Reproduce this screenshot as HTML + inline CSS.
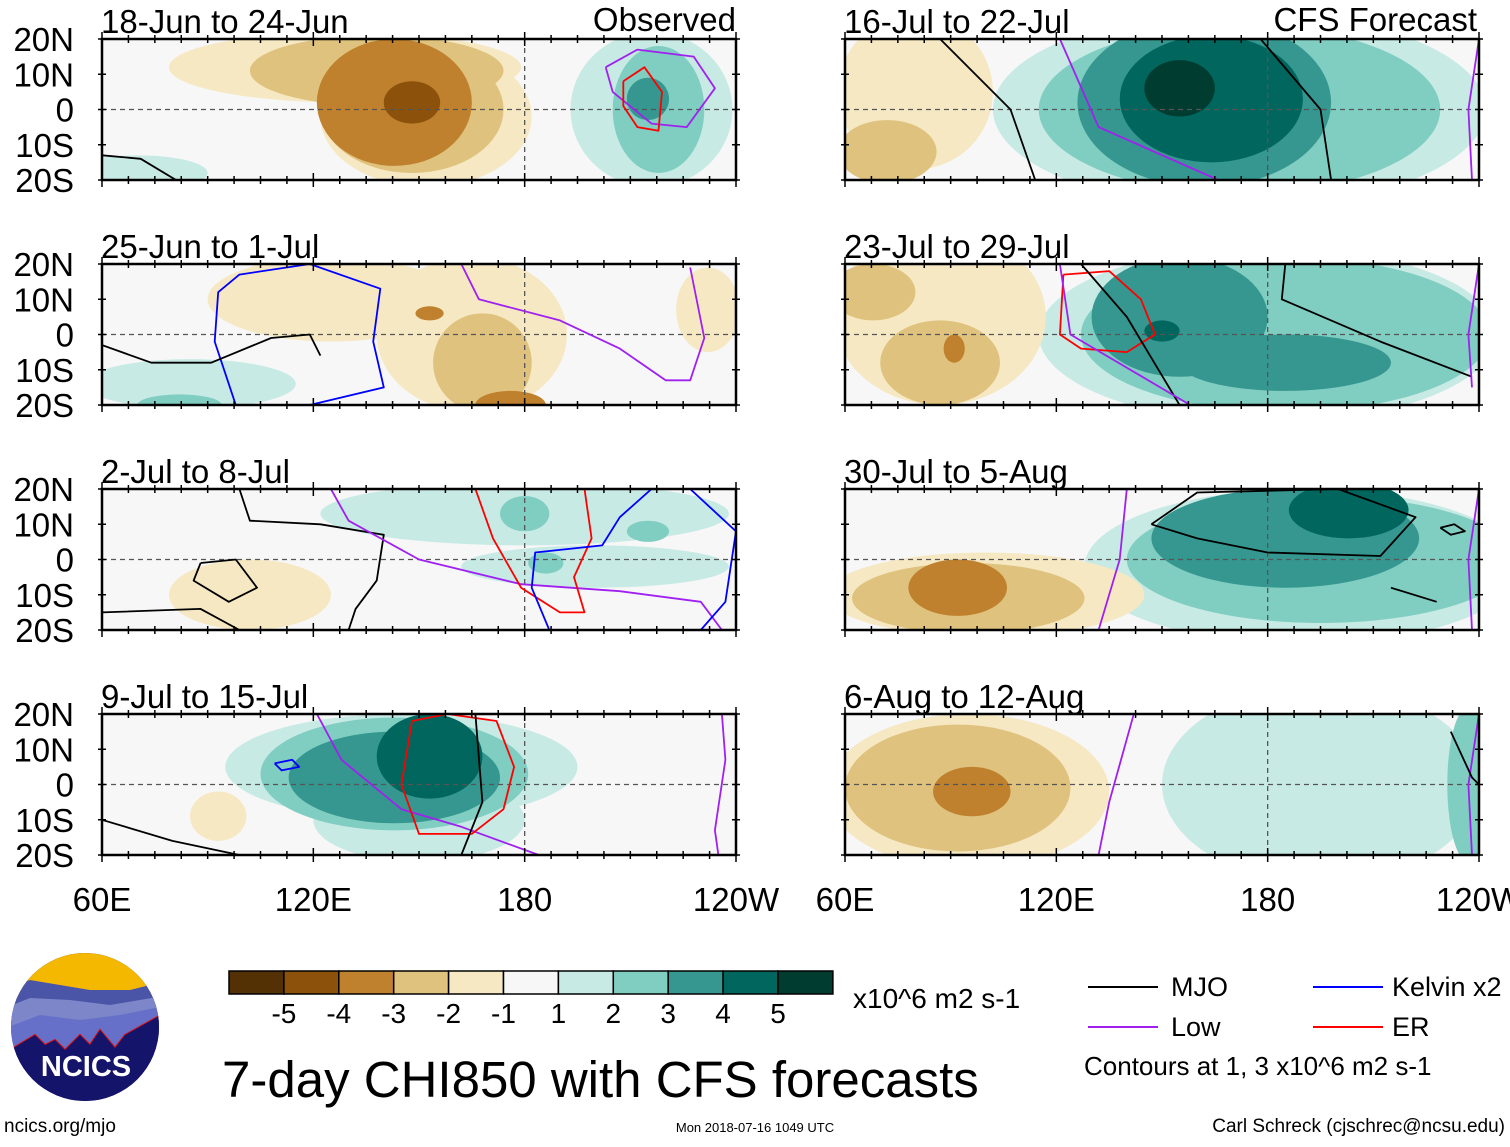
<!DOCTYPE html>
<html><head><meta charset="utf-8">
<style>
body{margin:0;background:#fff;}
svg text{font-family:"Liberation Sans",sans-serif;}
</style></head>
<body>
<svg id="chart" width="1510" height="1142" viewBox="0 0 1510 1142" xmlns="http://www.w3.org/2000/svg">
<rect width="1510" height="1142" fill="#fff"/>
<g id="panels"></g>
<g id="static"></g>
</svg>
<script>
// ---- data ----
const levels = [-5,-4,-3,-2,-1,1,2,3,4,5];
const levelColors = ['#543005','#8c510a','#bf812d','#dfc27d','#f6e8c3','#c7eae5','#80cdc1','#35978f','#01665e','#003c30'];
const panelTitles = ['18-Jun to 24-Jun','25-Jun to 1-Jul','2-Jul to 8-Jul','9-Jul to 15-Jul','16-Jul to 22-Jul','23-Jul to 29-Jul','30-Jul to 5-Aug','6-Aug to 12-Aug'];
const xTickLabels = ['60E','120E','180','120W'];
const xTickLons = [60,120,180,240];
const yTickLabels = ['20N','10N','0','10S','20S'];
const yTickLats = [20,10,0,-10,-20];
// blobs: [lonCenter, latCenter, lonHalfWidth, latHalfHeight, level]
const blobs0 = [[129,12,50,10,-1],[152,-2,30,20,-1],[138,11,36,10,-2],[148,0,26,18,-2],[143,2,22,18,-3],[148,2,8,6,-4],[216,0,23,22,1],[218,0,13,18,2],[215,3,6,6,3],[70,-18,20,5,1]];
const blobs1 = [[125,10,35,12,-1],[165,0,27,22,-1],[168,-8,14,14,-2],[176,-20,10,4,-3],[153,6,4,2,-3],[232,7,9,12,-1],[85,-14,30,7,1],[82,-20,12,3,2]];
const blobs2 = [[180,13,58,9,1],[200,-2,38,6,1],[180,13,7,5,2],[215,8,6,3,2],[186,-1,5,3,2],[102,-10,23,10,-1]];
const blobs3 = [[145,5,50,15,1],[150,-10,30,12,1],[143,3,38,16,2],[143,2,30,13,3],[153,8,15,12,4],[93,-9,8,7,-1]];
const blobs4 = [[172,0,70,28,1],[172,0,57,24,2],[162,2,36,24,3],[164,3,26,18,4],[155,6,10,8,5],[80,5,22,22,-1],[72,-12,14,9,-2]];
const blobs5 = [[180,0,65,25,1],[185,0,58,22,2],[155,5,25,17,3],[185,-8,30,8,3],[150,1,5,3,4],[87,5,30,25,-1],[68,12,12,8,-2],[87,-8,17,12,-2],[91,-4,3,4,-3]];
const blobs6 = [[190,-2,62,22,1],[195,0,55,18,2],[185,6,38,14,3],[203,14,17,8,4],[100,-10,45,12,-1],[95,-11,33,10,-2],[92,-8,14,8,-3]];
const blobs7 = [[95,-2,40,22,-1],[92,-1,32,18,-2],[96,-2,11,7,-3],[195,0,45,28,1],[237,0,6,22,2]];
const panelBlobs = [blobs0,blobs1,blobs2,blobs3,blobs4,blobs5,blobs6,blobs7];
// contours: [type, [[lon,lat],...]]
const cont0 = [['mjo',[[60,-13],[71,-14],[81,-20]]],['low',[[203,12],[212,17],[228,15],[234,6],[226,-5],[216,-4],[205,5],[203,12]]],['er',[[208,8],[214,12],[219,5],[218,-6],[212,-5],[208,1],[208,8]]]];
const cont1 = [['kelvin',[[98,-20],[92,-2],[93,12],[99,17],[119,20],[139,13],[137,-2],[140,-15],[119,-20]]],['low',[[162,20],[167,10],[190,4],[207,-4],[220,-13],[227,-13],[231,-1],[227,19]]],['mjo',[[60,-3],[74,-8],[91,-8],[108,-1],[119,0],[122,-6]]]];
const cont2 = [['mjo',[[99,20],[102,11],[122,10],[140,7],[138,-6],[132,-14],[130,-20]]],['mjo',[[88,-1],[98,0],[104,-8],[96,-12],[86,-6],[88,-1]]],['mjo',[[60,-15],[88,-14],[99,-20]]],['low',[[125,20],[130,11],[150,0],[179,-7],[207,-9],[230,-12],[236,-20]]],['er',[[166,20],[171,6],[179,-8],[190,-15],[197,-15],[194,-5],[199,6],[197,20]]],['kelvin',[[187,-20],[182,-8],[183,2],[202,4],[207,12],[216,20],[227,20],[240,8],[237,-12],[230,-20]]]];
const cont3 = [['mjo',[[60,-10],[80,-16],[99,-20]]],['low',[[121,20],[128,7],[145,-7],[162,-12],[184,-20]]],['low',[[236,20],[237,7],[234,-13],[235,-20]]],['er',[[148,18],[158,20],[172,18],[177,5],[174,-7],[165,-14],[150,-14],[145,0],[148,18]]],['mjo',[[166,20],[168,-5],[162,-20]]],['kelvin',[[109,6],[114,7],[116,5],[111,4],[109,6]]]];
const cont4 = [['mjo',[[87,20],[107,0],[114,-20]]],['mjo',[[178,20],[195,0],[198,-20]]],['low',[[121,20],[132,-5],[166,-20]]],['low',[[240,20],[237,0],[238,-20]]]];
const cont5 = [['er',[[122,17],[135,18],[144,10],[148,0],[140,-5],[127,-4],[121,0],[122,17]]],['mjo',[[127,20],[140,5],[155,-20]]],['mjo',[[185,20],[184,10],[212,-2],[238,-12]]],['low',[[121,20],[124,0],[158,-20]]],['low',[[240,20],[237,0],[238,-15]]]];
const cont6 = [['low',[[140,20],[138,0],[132,-20]]],['mjo',[[147,10],[160,19],[200,20],[222,12],[212,1],[180,2],[160,6],[147,10]]],['mjo',[[215,-8],[228,-12]]],['mjo',[[229,9],[233,10],[236,8],[232,7],[229,9]]],['low',[[240,20],[237,0],[238,-20]]]];
const cont7 = [['low',[[142,20],[135,-5],[132,-20]]],['low',[[240,20],[237,0],[238,-20]]],['mjo',[[232,15],[238,2],[240,0]]]];
const panelConts = [cont0,cont1,cont2,cont3,cont4,cont5,cont6,cont7];
const contColors = {mjo:'#000',low:'#a020f0',kelvin:'#0000ff',er:'#ff0000'};
// ---- layout ----
const colX = [102,845], rowY = [39,264,489,714], PW = 634, PH = 141;
const NS = 'http://www.w3.org/2000/svg';
function mk(tag, attrs, parent){const e=document.createElementNS(NS,tag);for(const k in attrs)e.setAttribute(k,attrs[k]);parent.appendChild(e);return e;}
function xScale(x0,lon){return x0+(lon-60)/180*PW;}
function yScale(y0,lat){return y0+(20-lat)/40*PH;}
const gp = document.getElementById('panels');
for(let p=0;p<8;p++){
  const x0 = colX[p<4?0:1], y0 = rowY[p%4];
  const g = mk('g',{},gp);
  
  
  const cp = mk('clipPath',{id:'clip'+p},g);
  mk('rect',{x:x0,y:y0,width:PW,height:PH},cp);
  mk('rect',{x:x0,y:y0,width:PW,height:PH,fill:'#f7f7f7'},g);
  const gi = mk('g',{'clip-path':'url(#clip'+p+')'},g);
  const bl = panelBlobs[p].slice().sort((a,b)=>Math.abs(a[4])-Math.abs(b[4]));
  bl.forEach(b=>{
    const cx=xScale(x0,b[0]), cy=yScale(y0,b[1]);
    const rx=b[2]/180*PW, ry=b[3]/40*PH;
    const e = mk('ellipse',{cx:cx,cy:cy,rx:rx,ry:ry,fill:levelColors[levels.indexOf(b[4])]},gi);
    
    
  });
  mk('line',{x1:x0,x2:x0+PW,y1:yScale(y0,0),y2:yScale(y0,0),stroke:'#555','stroke-dasharray':'5,4','stroke-width':1.3},gi);
  mk('line',{x1:xScale(x0,180),x2:xScale(x0,180),y1:y0,y2:y0+PH,stroke:'#555','stroke-dasharray':'5,4','stroke-width':1.3},gi);
  panelConts[p].forEach(c=>{
    const pts=c[1].map(q=>xScale(x0,q[0]).toFixed(1)+','+yScale(y0,q[1]).toFixed(1)).join(' ');
    const l = mk('polyline',{points:pts,fill:'none',stroke:contColors[c[0]],'stroke-width':1.8,'stroke-linejoin':'round'},gi);
    
    
  });
  mk('rect',{x:x0,y:y0,width:PW,height:PH,fill:'none',stroke:'#000','stroke-width':2.5},g);
  for(let k=0;k<=24;k++){
    const lon=60+k*7.5;
    const tx=xScale(x0,lon), len=(k%8==0)?7:4;
    mk('line',{x1:tx,x2:tx,y1:y0-len,y2:y0+len,stroke:'#000','stroke-width':1.5},g);
    mk('line',{x1:tx,x2:tx,y1:y0+PH-len,y2:y0+PH+len,stroke:'#000','stroke-width':1.5},g);
  }
  for(let lat=-20;lat<=20;lat+=10){
    const ty=yScale(y0,lat);
    mk('line',{x1:x0-4,x2:x0+4,y1:ty,y2:ty,stroke:'#000','stroke-width':1.5},g);
    mk('line',{x1:x0+PW-4,x2:x0+PW+4,y1:ty,y2:ty,stroke:'#000','stroke-width':1.5},g);
  }
  const t = mk('text',{x:x0-1,y:y0-6,'font-size':33},g);
  t.textContent = panelTitles[p];
  
  
  if(p<4){
    yTickLats.forEach((lat,i)=>{
      const yt = mk('text',{x:74,y:yScale(y0,lat)+12,'font-size':33,'text-anchor':'end'},g);
      yt.textContent = yTickLabels[i];
      
      
    });
  }
  if(p%4==3){
    xTickLons.forEach((lon,i)=>{
      const xt = mk('text',{x:xScale(x0,lon),y:911,'font-size':33,'text-anchor':'middle'},g);
      xt.textContent = xTickLabels[i];
      
      
    });
  }
}
// colorbar
const gs = document.getElementById('static');
const cbx=229, cbw=54.9;
const cbColors=['#543005','#8c510a','#bf812d','#dfc27d','#f6e8c3','#f7f7f7','#c7eae5','#80cdc1','#35978f','#01665e','#003c30'];
cbColors.forEach((c,i)=>{
  const r=mk('rect',{x:cbx+i*cbw,y:971,width:cbw,height:23,fill:c,stroke:'#000','stroke-width':1.5},gs);
  
  
});
['-5','-4','-3','-2','-1','1','2','3','4','5'].forEach((s,i)=>{
  const t=mk('text',{x:cbx+(i+1)*cbw,y:1023,'font-size':28,'text-anchor':'middle'},gs);
  t.textContent=s;
  
  
});
</script>
<svg style="position:absolute;left:0;top:0" width="1510" height="1142">
<text x="1477" y="31" font-size="33" text-anchor="end" font-family="Liberation Sans">CFS Forecast</text>
<text x="736" y="31" font-size="33" text-anchor="end" font-family="Liberation Sans">Observed</text>
<text x="853" y="1008" font-size="28" font-family="Liberation Sans">x10^6 m2 s-1</text>
<text x="222" y="1097" font-size="51" font-family="Liberation Sans">7-day CHI850 with CFS forecasts</text>
<g font-family="Liberation Sans" font-size="27">
<line x1="1088" y1="987" x2="1158" y2="987" stroke="#000" stroke-width="2"/><text x="1171" y="996">MJO</text>
<line x1="1088" y1="1027" x2="1158" y2="1027" stroke="#a020f0" stroke-width="2"/><text x="1171" y="1036">Low</text>
<line x1="1313" y1="987" x2="1383" y2="987" stroke="#0000ff" stroke-width="2"/><text x="1392" y="996">Kelvin x2</text>
<line x1="1313" y1="1027" x2="1383" y2="1027" stroke="#ff0000" stroke-width="2"/><text x="1392" y="1036">ER</text>
<text x="1084" y="1075" font-size="26">Contours at 1, 3 x10^6 m2 s-1</text>
</g>
<g>
<clipPath id="lc"><circle cx="85" cy="1027" r="74"/></clipPath>
<g clip-path="url(#lc)">
<rect x="0" y="950" width="170" height="160" fill="#1a1a6e"/>
<rect x="0" y="950" width="170" height="45" fill="#f5b800"/>
<polygon points="0,990 30,980 60,985 90,990 130,990 170,980 170,1010 0,1010" fill="#4a55a8"/>
<polygon points="0,1010 30,998 70,1000 110,1005 170,995 170,1030 0,1030" fill="#7c86c8"/>
<polygon points="0,1030 40,1015 80,1020 120,1015 170,1005 170,1050 0,1050" fill="#6670c8"/>
<polyline points="10,1050 35,1035 45,1045 55,1040 65,1050 80,1035 90,1045 100,1030 115,1048 125,1035 170,1010" fill="none" stroke="#e01010" stroke-width="2"/>
<polygon points="10,1050 35,1035 45,1045 55,1040 65,1050 80,1035 90,1045 100,1030 115,1048 125,1035 170,1010 170,1110 0,1110" fill="#14146a"/>
</g>
<text x="86" y="1076" font-size="29" font-weight="bold" fill="#fff" text-anchor="middle" font-family="Liberation Sans">NCICS</text>
</g>
<text x="4" y="1132" font-size="19" font-family="Liberation Sans">ncics.org/mjo</text>
<text x="755" y="1132" font-size="13" text-anchor="middle" font-family="Liberation Sans">Mon 2018-07-16 1049 UTC</text>
<text x="1505" y="1132" font-size="19" text-anchor="end" font-family="Liberation Sans">Carl Schreck (cjschrec@ncsu.edu)</text>
</svg>
</body></html>
